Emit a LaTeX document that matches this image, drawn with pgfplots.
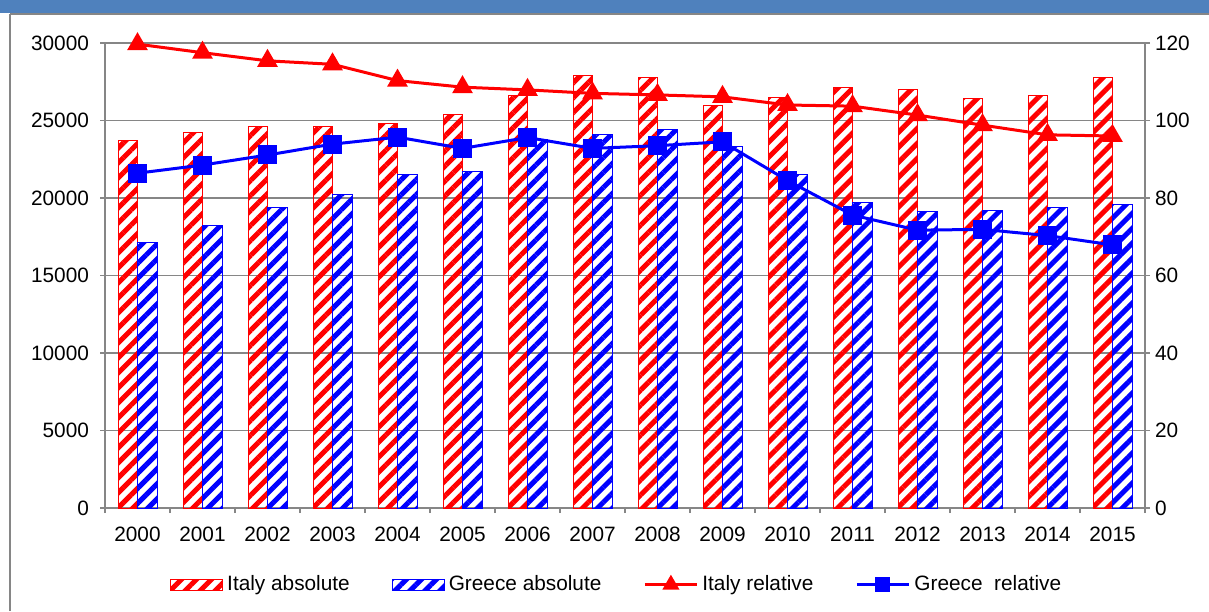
\documentclass[border=0pt]{standalone}
\usepackage{fontspec}
\setmainfont{Liberation Sans}
\usepackage{pgfplots}
\usepackage{pgfplotstable}
\pgfplotsset{compat=1.18}
\usetikzlibrary{patterns.meta}
\definecolor{gridgray}{RGB}{134,134,134}
\definecolor{band}{RGB}{79,129,189}
\pgfplotstableread{
x ita gre itr grr
0 23700 17100 119.7 86.4
1 24200 18200 117.5 88.5
2 24600 19400 115.4 91.1
3 24600 20200 114.5 93.9
4 24800 21500 110.3 95.7
5 25400 21700 108.6 92.8
6 26600 23800 107.9 95.6
7 27900 24100 107.0 92.8
8 27800 24400 106.6 93.5
9 26000 23300 106.1 94.5
10 26500 21500 104.0 84.5
11 27100 19700 103.7 75.6
12 27000 19100 101.4 71.7
13 26400 19200 98.8 71.9
14 26600 19400 96.3 70.3
15 27800 19600 96.0 67.9
}\data
\newcommand{\lblfont}{\fontsize{10.4}{12}\selectfont}
\pgfplotsset{
  mylinelegend/.style={legend image code/.code={\draw[mark repeat=2,mark phase=2,##1,mark size=#1] plot coordinates {(0pt,0pt) (13pt,0pt) (26pt,0pt)};}},
  mybarlegend/.style={legend image code/.code={\draw[draw=#1, line width=0.5pt, pattern={Lines[angle=45,distance=5.3pt,line width=2.5pt]}, pattern color=#1] (0pt,-2.75pt) rectangle (26pt,2.75pt);}},
}
\begin{document}
\begin{tikzpicture}
\path[use as bounding box] (0pt,0pt) rectangle (604.5pt,305.5pt);
\fill[band] (0pt,299pt) rectangle (604.5pt,305.5pt);
\draw[gridgray, line width=0.8pt] (5pt,298.5pt) -- (604.5pt,298.5pt);
\draw[gridgray, line width=0.8pt] (5pt,0pt) -- (5pt,298.5pt);
\begin{axis}[
  at={(52.5pt,51.5pt)}, anchor=south west,
  scale only axis, width=520pt, height=232.5pt,
  ybar=0pt, bar width=9.75pt,
  xmin=-0.5, xmax=15.5, ymin=0, ymax=30000,
  xtick={0,...,15},
  xticklabels={2000,2001,2002,2003,2004,2005,2006,2007,2008,2009,2010,2011,2012,2013,2014,2015},
  minor xtick={-0.5,0.5,...,15.5},
  ytick={0,5000,...,30000},
  scaled y ticks=false,
  /pgf/number format/1000 sep={},
  /pgf/number format/assume math mode=true,
  axis x line*=bottom, axis y line*=left,
  axis line style={gridgray, line width=0.8pt},
  tick align=outside,
  major tick length=2.5pt, minor tick length=2.5pt,
  major x tick style={draw=none},
  tick style={gridgray, line width=0.8pt},
  ymajorgrids, grid style={gridgray, line width=0.8pt},
  tick label style={font=\lblfont, text=black},
  yticklabel style={xshift=-2pt},
  xticklabel style={yshift=-3.5pt},
]
\addplot[draw=red, line width=0.5pt, pattern={Lines[angle=45,distance=5.3pt,line width=2.5pt]}, pattern color=red] table[x=x,y=ita]{\data};
\addplot[draw=blue, line width=0.5pt, pattern={Lines[angle=45,distance=5.3pt,line width=2.5pt]}, pattern color=blue] table[x=x,y=gre]{\data};
\end{axis}
\begin{axis}[
  at={(52.5pt,51.5pt)}, anchor=south west,
  scale only axis, width=520pt, height=232.5pt,
  xmin=-0.5, xmax=15.5, ymin=0, ymax=120,
  ytick={0,20,...,120},
  axis x line=none, axis y line*=right,
  axis line style={gridgray, line width=0.8pt},
  tick align=outside, major tick length=2.5pt,
  tick style={gridgray, line width=0.8pt},
  /pgf/number format/assume math mode=true,
  tick label style={font=\lblfont, text=black},
  yticklabel style={xshift=-1pt},
  clip=false,
  legend style={at={(0.493,-0.165)}, anchor=center, draw=none, fill=none,
    legend columns=4, font=\lblfont,
    /tikz/every even column/.append style={column sep=19pt}},
]
\addlegendimage{mybarlegend=red}
\addlegendentry{Italy absolute}
\addlegendimage{mybarlegend=blue}
\addlegendentry{Greece absolute}
\addplot[red, line width=1.5pt, mark=triangle*, mark size=4.5pt, mylinelegend=3.5pt]
  table[x=x,y=itr]{\data};
\addlegendentry{Italy relative}
\addplot[blue, line width=1.5pt, mark=square*, mark size=4pt, mylinelegend=3pt]
  table[x=x,y=grr]{\data};
\addlegendentry{Greece\ \ relative}
\end{axis}
\end{tikzpicture}
\end{document}
